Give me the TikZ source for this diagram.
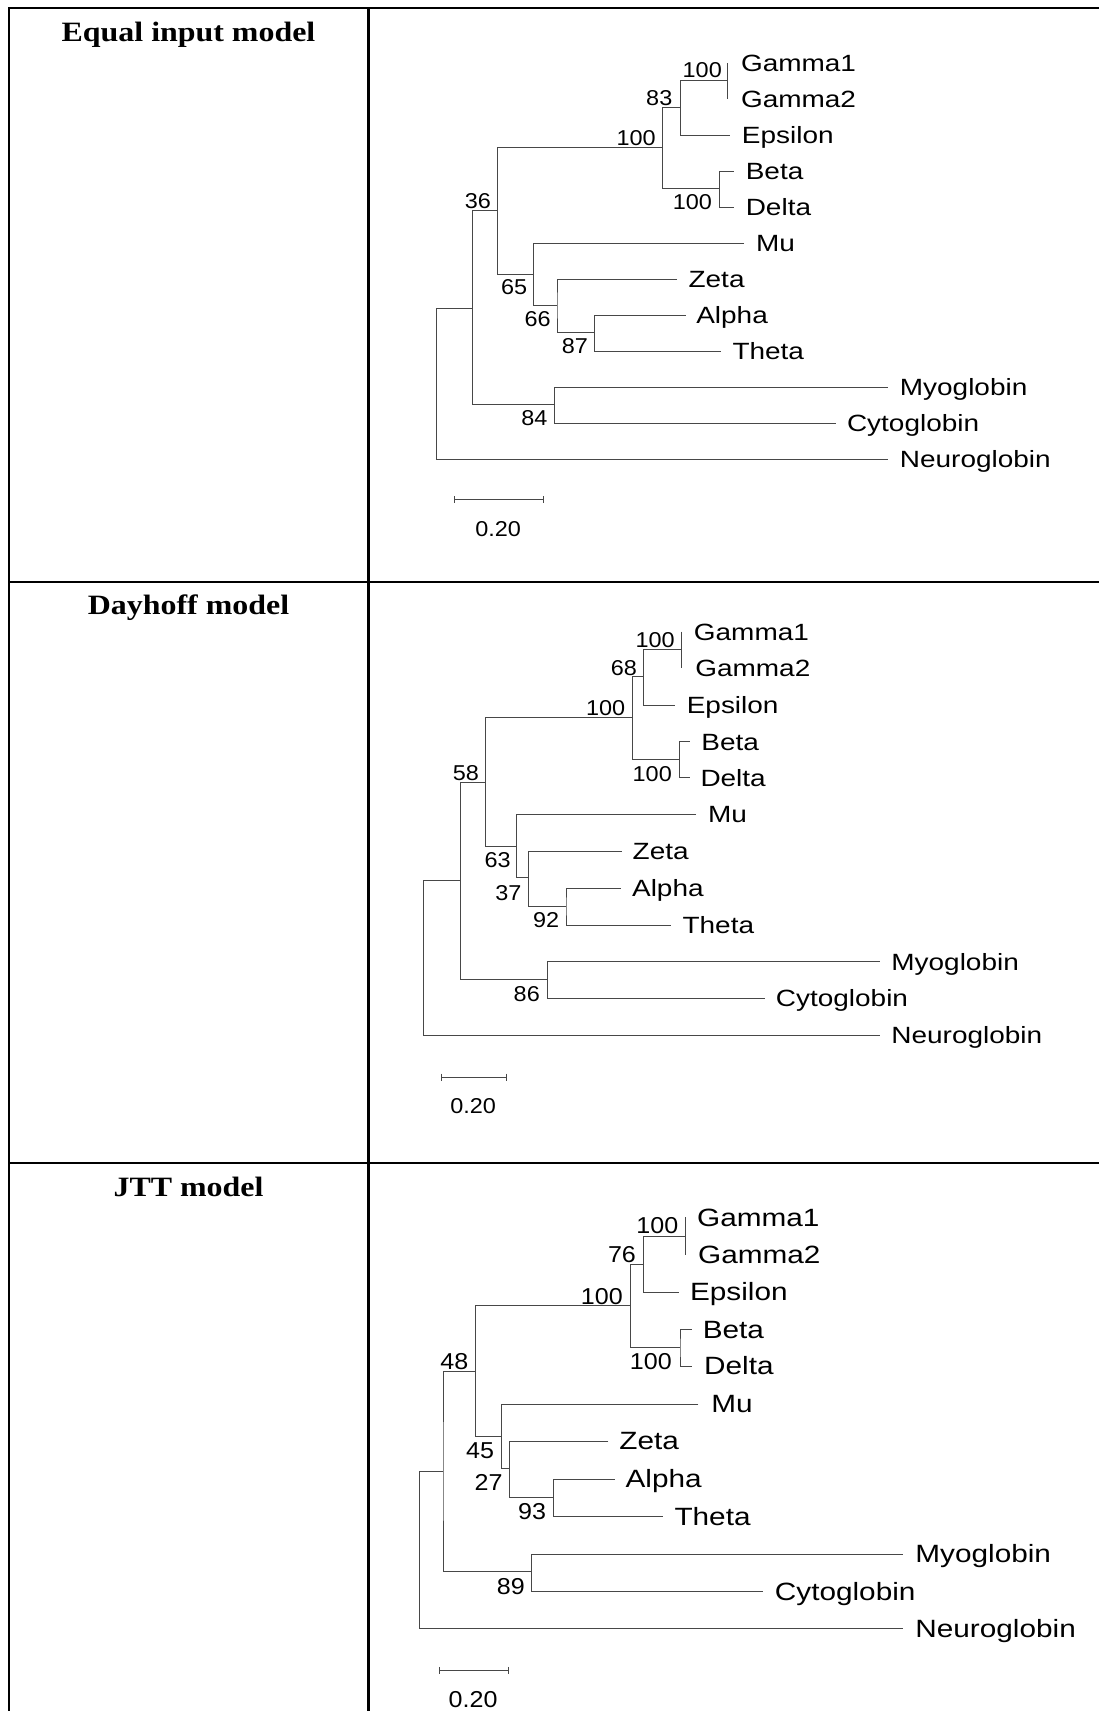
\documentclass[tikz,border=0pt]{standalone}
\usepackage{fontspec}
\setmainfont{Liberation Sans}
\newfontfamily\leaffont[FakeStretch=1.19]{Liberation Sans}
\newfontfamily\numfont[FakeStretch=1.09]{Liberation Sans}
\newfontfamily\titlefont[FakeStretch=1.14]{Liberation Serif}
\newcommand\tclade[3]{\draw[br] (#2) -| (#1) |- (#3);}
\tikzset{
  br/.style={draw=black!72, line width=0.9pt},
  frame/.style={draw=black, line width=2.4pt},
  leafA/.style={anchor=west, inner sep=0pt, font=\leaffont\fontsize{23.5}{23.5}\selectfont, text height=16.8pt, text depth=0pt},
  leafC/.style={anchor=west, inner sep=0pt, font=\leaffont\fontsize{25}{25}\selectfont, text height=17.9pt, text depth=0pt},
  numA/.style={anchor=east, inner sep=0pt, font=\numfont\fontsize{21.5}{21.5}\selectfont, text height=15.4pt, text depth=0pt},
  numC/.style={anchor=east, inner sep=0pt, font=\numfont\fontsize{23}{23}\selectfont, text height=16.5pt, text depth=0pt},
  ttl/.style={inner sep=0pt, font=\titlefont\bfseries\fontsize{28}{28}\selectfont, text height=18.6pt, text depth=0pt},
}
\begin{document}
\begin{tikzpicture}[x=1pt,y=-1pt]
\fill[white] (0,0) rectangle (1099,1711);
\useasboundingbox (0,0) rectangle (1099,1711);

% ---------- table frame ----------
\draw[frame] (1099,8) -- (9,8) -- (9,1711);
\draw[frame] (368.5,8) -- (368.5,1711);
\draw[frame] (9,582) -- (1099,582);
\draw[frame] (9,1163) -- (1099,1163);

% ---------- titles ----------
\node[ttl] (tA) at (188.5,32) {Equal input model};
\node[ttl] (tB) at (188.5,604.7) {Dayhoff model};
\node[ttl] (tC) at (188.5,1187) {JTT model};

% =================== Panel A: Equal input ===================
\coordinate (aG1t) at (727.6,63);
\coordinate (aG2t) at (727.6,99);
\coordinate (aEpt) at (730.0,135);
\coordinate (aBet) at (733.7,171);
\coordinate (aDet) at (733.7,207);
\coordinate (aMut) at (744.2,243);
\coordinate (aZet) at (677.1,279);
\coordinate (aAlt) at (685.6,315);
\coordinate (aTht) at (720.5,351);
\coordinate (aMyt) at (887.8,387);
\coordinate (aCyt) at (836.1,423);
\coordinate (aNet) at (887.8,459);
\coordinate (aG) at (727.6,80);
\coordinate (a83) at (680.5,107.3);
\coordinate (aBD) at (719.6,188.3);
\coordinate (a100) at (662.1,147);
\coordinate (a87) at (594.3,332.3);
\coordinate (a66) at (557.0,305);
\coordinate (a65) at (533.9,274);
\coordinate (a36) at (497.1,210.7);
\coordinate (a84) at (554.7,404.3);
\coordinate (aA) at (472.1,308);
\coordinate (aR) at (436.4,380);
\tclade{aG}{aG1t}{aG2t}
\tclade{a83}{aG}{aEpt}
\tclade{aBD}{aBet}{aDet}
\tclade{a100}{a83}{aBD}
\tclade{a87}{aAlt}{aTht}
\tclade{a66}{aZet}{a87}
\tclade{a65}{aMut}{a66}
\tclade{a36}{a100}{a65}
\tclade{a84}{aMyt}{aCyt}
\tclade{aA}{a36}{a84}
\tclade{aR}{aA}{aNet}
\node[leafA] (aG1) at (740.8,63) {Gamma1};
\node[leafA] (aG2) at (740.8,99) {Gamma2};
\node[leafA] (aEp) at (741.7,135) {Epsilon};
\node[leafA] (aBe) at (745.6,171) {Beta};
\node[leafA] (aDe) at (745.6,207) {Delta};
\node[leafA] (aMu) at (755.9,243) {Mu};
\node[leafA] (aZe) at (688.4,279) {Zeta};
\node[leafA] (aAl) at (696.1,315) {Alpha};
\node[leafA] (aTh) at (732.3,351) {Theta};
\node[leafA] (aMy) at (899.7,387) {Myoglobin};
\node[leafA] (aCy) at (846.8,423) {Cytoglobin};
\node[leafA] (aNe) at (899.7,459) {Neuroglobin};
\node[numA] (aL1) at (722.0,70) {100};
\node[numA] (aL2) at (672.5,98) {83};
\node[numA] (aL3) at (655.9,137.7) {100};
\node[numA] (aL4) at (712.1,201.7) {100};
\node[numA] (aL5) at (491.1,201) {36};
\node[numA] (aL6) at (527.3,287) {65};
\node[numA] (aL7) at (550.9,319) {66};
\node[numA] (aL8) at (588.1,345.7) {87};
\node[numA] (aL9) at (547.6,417.7) {84};
\coordinate (aS1) at (454.3,499.7);
\coordinate (aS2) at (543.8,499.7);
\draw[br] (aS1) -- (aS2);
\draw[br] (aS1) ++(0,-3.5) -- ++(0,7);
\draw[br] (aS2) ++(0,-3.5) -- ++(0,7);
\node[numA, anchor=center] (aSL) at (498.1,528.3) {0.20};

% =================== Panel B: Dayhoff ===================
\coordinate (bG1t) at (681.9,631.7);
\coordinate (bG2t) at (681.9,668.3);
\coordinate (bEpt) at (674.9,705);
\coordinate (bBet) at (689.9,741.7);
\coordinate (bDet) at (689.9,777.7);
\coordinate (bMut) at (696.1,814.3);
\coordinate (bZet) at (621.6,851);
\coordinate (bAlt) at (620.6,888.3);
\coordinate (bTht) at (671.1,925);
\coordinate (bMyt) at (879.9,961.7);
\coordinate (bCyt) at (765.4,998.3);
\coordinate (bNet) at (879.9,1035);
\coordinate (bG) at (681.9,649.3);
\coordinate (b68) at (643.8,676.7);
\coordinate (bBD) at (679.1,759.3);
\coordinate (b100) at (632.5,717.3);
\coordinate (b92) at (566.0,906);
\coordinate (b37) at (528.3,877.7);
\coordinate (b63) at (516.9,846.7);
\coordinate (b58) at (485.8,782.3);
\coordinate (b86) at (547.1,979.3);
\coordinate (bA) at (460.4,880.7);
\coordinate (bR) at (423.6,960);
\tclade{bG}{bG1t}{bG2t}
\tclade{b68}{bG}{bEpt}
\tclade{bBD}{bBet}{bDet}
\tclade{b100}{b68}{bBD}
\tclade{b92}{bAlt}{bTht}
\tclade{b37}{bZet}{b92}
\tclade{b63}{bMut}{b37}
\tclade{b58}{b100}{b63}
\tclade{b86}{bMyt}{bCyt}
\tclade{bA}{b58}{b86}
\tclade{bR}{bA}{bNet}
\node[leafA] (bG1) at (693.7,631.7) {Gamma1};
\node[leafA] (bG2) at (695.1,668.3) {Gamma2};
\node[leafA] (bEp) at (686.6,705) {Epsilon};
\node[leafA] (bBe) at (701.2,741.7) {Beta};
\node[leafA] (bDe) at (700.3,777.7) {Delta};
\node[leafA] (bMu) at (707.8,814.3) {Mu};
\node[leafA] (bZe) at (632.5,851) {Zeta};
\node[leafA] (bAl) at (631.9,888.3) {Alpha};
\node[leafA] (bTh) at (682.4,925) {Theta};
\node[leafA] (bMy) at (891.2,961.7) {Myoglobin};
\node[leafA] (bCy) at (775.7,998.3) {Cytoglobin};
\node[leafA] (bNe) at (891.2,1035) {Neuroglobin};
\node[numA] (bL1) at (674.9,639.3) {100};
\node[numA] (bL2) at (637.1,667.3) {68};
\node[numA] (bL3) at (625.4,707.7) {100};
\node[numA] (bL4) at (672.0,773.3) {100};
\node[numA] (bL5) at (479.2,772.3) {58};
\node[numA] (bL6) at (510.9,860) {63};
\node[numA] (bL7) at (521.6,892.3) {37};
\node[numA] (bL8) at (559.4,920) {92};
\node[numA] (bL9) at (540.0,994) {86};
\coordinate (bS1) at (441.6,1077);
\coordinate (bS2) at (506.6,1077);
\draw[br] (bS1) -- (bS2);
\draw[br] (bS1) ++(0,-3.5) -- ++(0,7);
\draw[br] (bS2) ++(0,-3.5) -- ++(0,7);
\node[numA, anchor=center] (bSL) at (473.1,1105.7) {0.20};

% =================== Panel C: JTT ===================
\coordinate (cG1t) at (685.2,1217.3);
\coordinate (cG2t) at (685.2,1254.7);
\coordinate (cEpt) at (678.5,1292);
\coordinate (cBet) at (691.8,1329.3);
\coordinate (cDet) at (691.8,1366);
\coordinate (cMut) at (698.3,1404);
\coordinate (cZet) at (608.4,1441);
\coordinate (cAlt) at (614.5,1479);
\coordinate (cTht) at (662.6,1516.3);
\coordinate (cMyt) at (902.9,1554);
\coordinate (cCyt) at (763.0,1591.3);
\coordinate (cNet) at (902.9,1628.7);
\coordinate (cG) at (685.2,1236);
\coordinate (c76) at (643.2,1264.3);
\coordinate (cBD) at (680.0,1347.7);
\coordinate (c100) at (630.5,1305.7);
\coordinate (c93) at (553.3,1497.3);
\coordinate (c27) at (509.9,1468.7);
\coordinate (c45) at (501.4,1436);
\coordinate (c48) at (475.5,1371);
\coordinate (c89) at (531.5,1571.7);
\coordinate (cA) at (443.0,1471.3);
\coordinate (cR) at (419.8,1550);
\tclade{cG}{cG1t}{cG2t}
\tclade{c76}{cG}{cEpt}
\tclade{cBD}{cBet}{cDet}
\tclade{c100}{c76}{cBD}
\tclade{c93}{cAlt}{cTht}
\tclade{c27}{cZet}{c93}
\tclade{c45}{cMut}{c27}
\tclade{c48}{c100}{c45}
\tclade{c89}{cMyt}{cCyt}
\tclade{cA}{c48}{c89}
\tclade{cR}{cA}{cNet}
\node[leafC] (cG1) at (696.9,1217.3) {Gamma1};
\node[leafC] (cG2) at (697.9,1254.7) {Gamma2};
\node[leafC] (cEp) at (689.9,1292) {Epsilon};
\node[leafC] (cBe) at (702.6,1329.3) {Beta};
\node[leafC] (cDe) at (704.0,1366) {Delta};
\node[leafC] (cMu) at (711.1,1404) {Mu};
\node[leafC] (cZe) at (619.2,1441) {Zeta};
\node[leafC] (cAl) at (625.4,1479) {Alpha};
\node[leafC] (cTh) at (674.3,1516.3) {Theta};
\node[leafC] (cMy) at (915.2,1554) {Myoglobin};
\node[leafC] (cCy) at (774.7,1591.3) {Cytoglobin};
\node[leafC] (cNe) at (915.2,1628.7) {Neuroglobin};
\node[numC] (cL1) at (678.5,1225.7) {100};
\node[numC] (cL2) at (636.1,1254) {76};
\node[numC] (cL3) at (623.0,1296) {100};
\node[numC] (cL4) at (672.0,1361.7) {100};
\node[numC] (cL5) at (468.4,1361) {48};
\node[numC] (cL6) at (494.3,1450.7) {45};
\node[numC] (cL7) at (502.8,1482.7) {27};
\node[numC] (cL8) at (546.2,1511) {93};
\node[numC] (cL9) at (525.0,1586) {89};
\coordinate (cS1) at (439.6,1670.3);
\coordinate (cS2) at (508.9,1670.3);
\draw[br] (cS1) -- (cS2);
\draw[br] (cS1) ++(0,-3.5) -- ++(0,7);
\draw[br] (cS2) ++(0,-3.5) -- ++(0,7);
\node[numC, anchor=center] (cSL) at (473.1,1699.3) {0.20};
\end{tikzpicture}
\end{document}
